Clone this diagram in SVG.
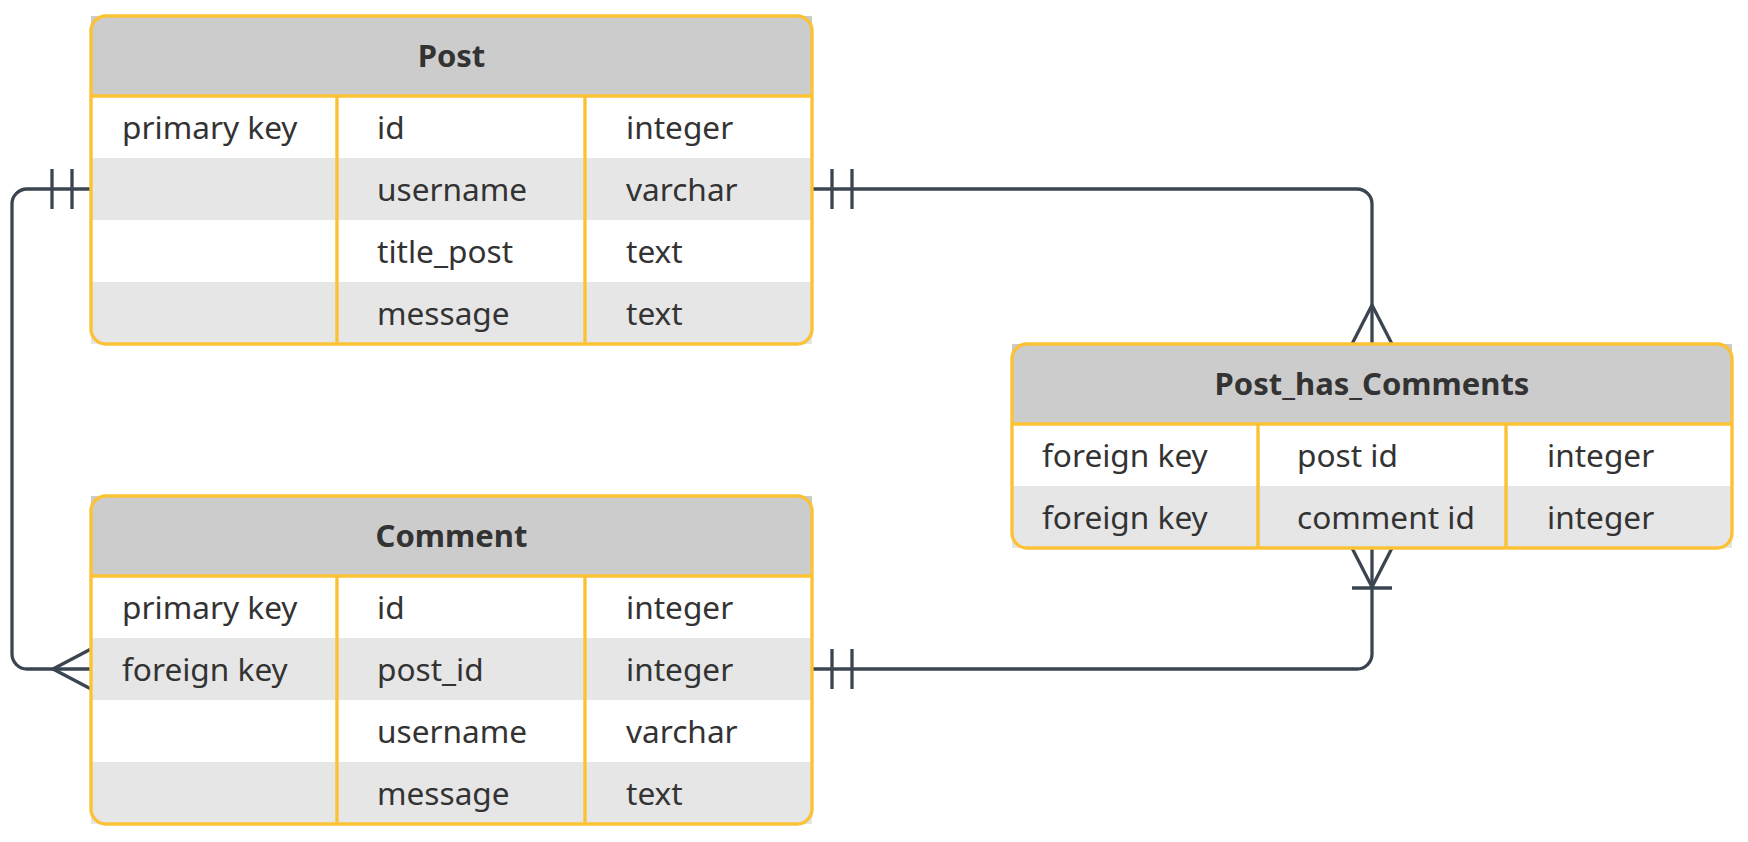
<svg xmlns="http://www.w3.org/2000/svg" width="1748" height="842" viewBox="0 0 1748 842">
<style>
.hdr{fill:#cccccc}
.alt{fill:#e6e6e6}
.wht{fill:#ffffff}
.frame{fill:none;stroke:#fcc236;stroke-width:3.4}
.div{stroke:#fcc236;stroke-width:3.4;fill:none}
.title{font-family:"Noto Sans","Open Sans",sans-serif;font-weight:bold;font-size:31px;fill:#333333;text-anchor:middle}
.cell{font-family:"Noto Sans","Open Sans",sans-serif;font-size:31.6px;fill:#333333}
.conn{fill:none;stroke:#3b4551;stroke-width:3.3;stroke-linejoin:round}
</style>
<rect width="1748" height="842" fill="#ffffff"/>

<g id="connectors">
  <path class="conn" d="M91,189 H27 A15,15 0 0 0 12,204 V654 A15,15 0 0 0 27,669 H91"/>
  <path class="conn" d="M52,169 V209 M72,169 V209"/>
  <path class="conn" d="M91,649 L53,669 L91,689"/>

  <path class="conn" d="M812,189 H1357 A15,15 0 0 1 1372,204 V344"/>
  <path class="conn" d="M832,169 V209 M852,169 V209"/>
  <path class="conn" d="M1352,344 L1372,305 L1392,344"/>

  <path class="conn" d="M1372,548 V654 A15,15 0 0 1 1357,669 H812"/>
  <path class="conn" d="M832,649 V689 M852,649 V689"/>
  <path class="conn" d="M1352,548 L1372,587 L1392,548 M1352,588 H1392"/>
</g>

<g id="post">
  <rect class="wht" x="91" y="96" width="721" height="248" rx="15"/>
  <rect class="hdr" x="91" y="16" width="721" height="80"/>
  <rect class="alt" x="91" y="158" width="721" height="62"/>
  <rect class="alt" x="91" y="282" width="721" height="62"/>
  <path class="div" d="M91,96 H812 M337,96 V344 M585,96 V344"/>
  <rect class="frame" x="91" y="16" width="721" height="328" rx="15"/>
  <text class="title" x="451.5" y="67">Post</text>
  <text class="cell" x="122" y="139">primary key</text>
  <text class="cell" x="377" y="139">id</text>
  <text class="cell" x="626" y="139">integer</text>
  <text class="cell" x="377" y="201">username</text>
  <text class="cell" x="626" y="201">varchar</text>
  <text class="cell" x="377" y="263">title_post</text>
  <text class="cell" x="626" y="263">text</text>
  <text class="cell" x="377" y="325">message</text>
  <text class="cell" x="626" y="325">text</text>
</g>

<g id="comment">
  <rect class="wht" x="91" y="576" width="721" height="248" rx="15"/>
  <rect class="hdr" x="91" y="496" width="721" height="80"/>
  <rect class="alt" x="91" y="638" width="721" height="62"/>
  <rect class="alt" x="91" y="762" width="721" height="62"/>
  <path class="div" d="M91,576 H812 M337,576 V824 M585,576 V824"/>
  <rect class="frame" x="91" y="496" width="721" height="328" rx="15"/>
  <text class="title" x="451.5" y="547">Comment</text>
  <text class="cell" x="122" y="619">primary key</text>
  <text class="cell" x="377" y="619">id</text>
  <text class="cell" x="626" y="619">integer</text>
  <text class="cell" x="122" y="681">foreign key</text>
  <text class="cell" x="377" y="681">post_id</text>
  <text class="cell" x="626" y="681">integer</text>
  <text class="cell" x="377" y="743">username</text>
  <text class="cell" x="626" y="743">varchar</text>
  <text class="cell" x="377" y="805">message</text>
  <text class="cell" x="626" y="805">text</text>
</g>

<g id="post_has_comments">
  <rect class="wht" x="1012" y="424" width="720" height="124" rx="15"/>
  <rect class="hdr" x="1012" y="344" width="720" height="80"/>
  <rect class="alt" x="1012" y="486" width="720" height="62"/>
  <path class="div" d="M1012,424 H1732 M1258,424 V548 M1506,424 V548"/>
  <rect class="frame" x="1012" y="344" width="720" height="204" rx="15"/>
  <text class="title" x="1372" y="395">Post_has_Comments</text>
  <text class="cell" x="1042" y="467">foreign key</text>
  <text class="cell" x="1297" y="467">post id</text>
  <text class="cell" x="1547" y="467">integer</text>
  <text class="cell" x="1042" y="529">foreign key</text>
  <text class="cell" x="1297" y="529">comment id</text>
  <text class="cell" x="1547" y="529">integer</text>
</g>
</svg>
